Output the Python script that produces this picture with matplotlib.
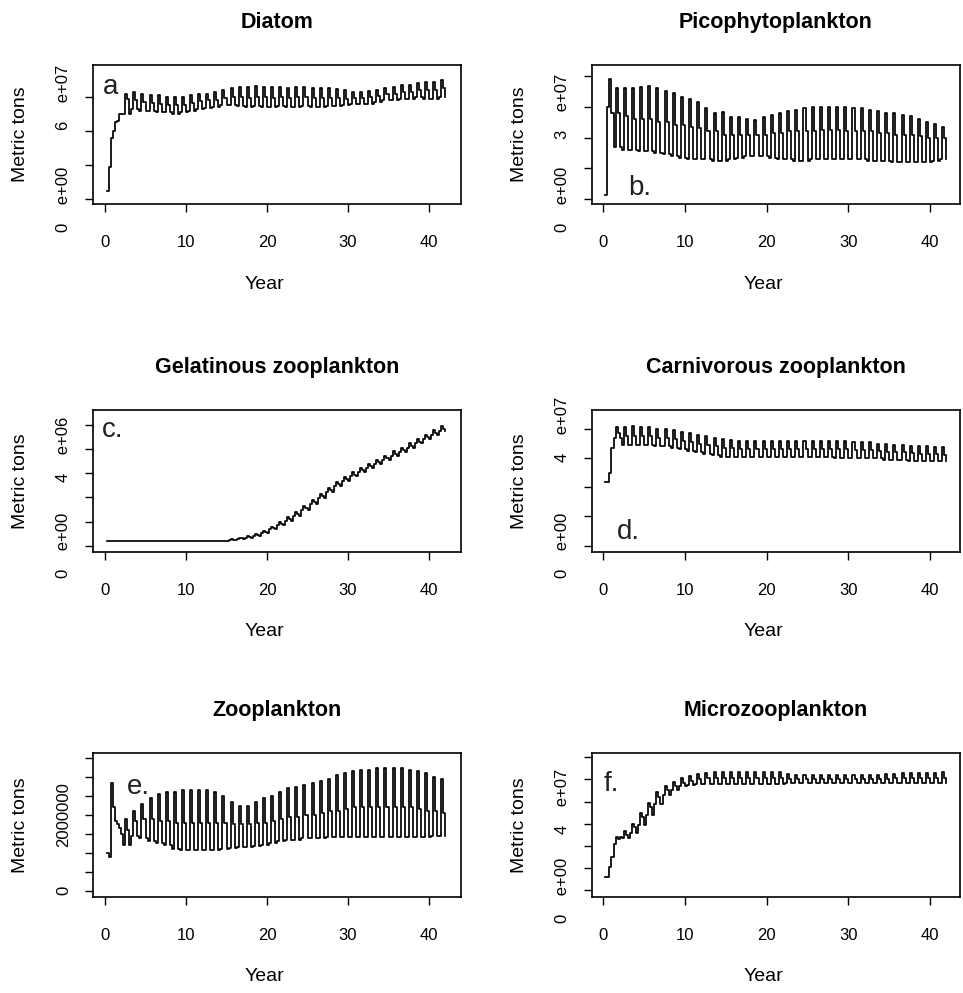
import numpy as np
import matplotlib
matplotlib.use("Agg")
import matplotlib.pyplot as plt

plt.rcParams["font.family"] = ["Liberation Sans", "DejaVu Sans"]

# Quarterly model output. Each series = a short start-up
# transient (quarter values) followed by per-year low / mid / high levels.

# Diatom (1e7 t), years 3..42
diatom_start = [0.5, 1.9, 3.6, 4.0, 4.55, 4.6, 5.0, 5.0]
diatom_lo = [5.0, 5.3, 5.2, 5.2, 5.1, 5.1, 5.0, 5.1, 5.2, 5.3,
             5.35, 5.4, 5.5, 5.5, 5.45, 5.4, 5.45, 5.4, 5.4, 5.45,
             5.4, 5.4, 5.45, 5.4, 5.4, 5.45, 5.45, 5.5, 5.6, 5.6,
             5.6, 5.7, 5.8, 5.8, 5.9, 5.9, 6.0, 5.9, 5.9, 6.0]
diatom_md = [5.9, 5.8, 5.7, 5.65, 5.6, 5.55, 5.5, 5.55, 5.65, 5.75,
             5.8, 5.85, 5.95, 6.0, 6.0, 5.95, 6.0, 6.0, 5.95, 6.0,
             5.95, 6.0, 6.0, 5.95, 5.95, 5.95, 5.95, 5.9, 5.95, 5.95,
             6.0, 6.05, 6.15, 6.2, 6.3, 6.3, 6.4, 6.4, 6.4, 6.5]
diatom_hi = [6.2, 6.3, 6.2, 6.1, 6.1, 6.0, 6.0, 6.0, 6.1, 6.2,
             6.2, 6.3, 6.4, 6.5, 6.6, 6.6, 6.65, 6.6, 6.6, 6.6,
             6.55, 6.6, 6.6, 6.55, 6.5, 6.5, 6.45, 6.4, 6.3, 6.3,
             6.35, 6.4, 6.5, 6.6, 6.7, 6.7, 6.8, 6.9, 6.9, 7.0]

# Picophytoplankton (1e7 t), years 2..42
pico_start = [0.13, 3.0, 3.9, 2.8]
pico_lo = [1.7, 1.6, 1.6, 1.55, 1.55, 1.5, 1.45, 1.4, 1.35, 1.3,
           1.3, 1.3, 1.25, 1.25, 1.3, 1.35, 1.4, 1.4, 1.4, 1.35,
           1.3, 1.3, 1.25, 1.25, 1.3, 1.3, 1.3, 1.3, 1.3, 1.3,
           1.3, 1.25, 1.25, 1.25, 1.2, 1.2, 1.2, 1.2, 1.2, 1.25,
           1.3]
pico_md = [2.8, 2.7, 2.6, 2.6, 2.6, 2.5, 2.5, 2.4, 2.4, 2.35,
           2.3, 2.2, 2.2, 2.1, 2.1, 2.1, 2.1, 2.1, 2.1, 2.15,
           2.15, 2.2, 2.2, 2.2, 2.2, 2.25, 2.25, 2.25, 2.2, 2.2,
           2.2, 2.2, 2.15, 2.15, 2.1, 2.1, 2.1, 2.05, 2.0, 2.0,
           2.0]
pico_hi = [3.6, 3.6, 3.6, 3.65, 3.67, 3.6, 3.5, 3.45, 3.33, 3.27,
           3.16, 2.95, 2.8, 2.84, 2.68, 2.68, 2.62, 2.57, 2.68, 2.75,
           2.8, 2.85, 2.9, 2.95, 3.0, 3.0, 3.0, 3.0, 3.0, 2.95,
           2.95, 2.9, 2.85, 2.8, 2.8, 2.75, 2.7, 2.6, 2.5, 2.45,
           2.35]

# Gelatinous zooplankton (1e6 t), years 1..42
gel_start = []
gel_lo = [0.2, 0.2, 0.2, 0.2, 0.2, 0.2, 0.2, 0.2, 0.2, 0.2,
          0.2, 0.2, 0.2, 0.2, 0.2, 0.24, 0.28, 0.33, 0.42, 0.54,
          0.68, 0.84, 1.02, 1.22, 1.46, 1.72, 1.96, 2.22, 2.46, 2.7,
          2.88, 3.04, 3.22, 3.4, 3.57, 3.74, 3.9, 4.07, 4.24, 4.42,
          4.6, 4.76]
gel_md = [0.2, 0.2, 0.2, 0.2, 0.2, 0.2, 0.2, 0.2, 0.2, 0.2,
          0.2, 0.2, 0.2, 0.2, 0.2, 0.25, 0.3, 0.36, 0.45, 0.58,
          0.72, 0.9, 1.1, 1.3, 1.55, 1.8, 2.05, 2.3, 2.55, 2.78,
          2.95, 3.12, 3.3, 3.48, 3.65, 3.82, 3.98, 4.15, 4.32, 4.5,
          4.68, 4.85]
gel_hi = [0.2, 0.2, 0.2, 0.2, 0.2, 0.2, 0.2, 0.2, 0.2, 0.2,
          0.2, 0.2, 0.2, 0.2, 0.2, 0.27, 0.32, 0.39, 0.49, 0.62,
          0.78, 0.97, 1.18, 1.4, 1.65, 1.9, 2.15, 2.4, 2.65, 2.87,
          3.04, 3.22, 3.4, 3.57, 3.74, 3.91, 4.07, 4.25, 4.42, 4.6,
          4.78, 4.95]

# Carnivorous zooplankton (1e7 t), years 2..42
carn_start = [2.17, 2.17, 2.48, 3.34]
carn_lo = [3.7, 3.45, 3.45, 3.45, 3.45, 3.4, 3.4, 3.35, 3.3, 3.25,
           3.2, 3.15, 3.1, 3.05, 3.05, 3.05, 3.05, 3.05, 3.05, 3.05,
           3.05, 3.05, 3.05, 3.05, 3.05, 3.05, 3.05, 3.0, 3.0, 3.0,
           3.0, 3.0, 3.0, 2.95, 2.95, 2.95, 2.9, 2.9, 2.9, 2.9,
           2.9]
carn_md = [3.85, 3.75, 3.75, 3.75, 3.75, 3.7, 3.7, 3.65, 3.6, 3.55,
           3.5, 3.45, 3.4, 3.35, 3.33, 3.32, 3.32, 3.32, 3.32, 3.32,
           3.32, 3.32, 3.32, 3.32, 3.32, 3.32, 3.32, 3.3, 3.3, 3.28,
           3.28, 3.27, 3.25, 3.22, 3.2, 3.2, 3.16, 3.15, 3.15, 3.14,
           3.1]
carn_hi = [4.05, 4.05, 4.1, 4.05, 4.05, 4.0, 4.0, 3.95, 3.9, 3.85,
           3.8, 3.75, 3.7, 3.65, 3.62, 3.6, 3.6, 3.6, 3.6, 3.6,
           3.6, 3.6, 3.6, 3.6, 3.6, 3.6, 3.6, 3.58, 3.58, 3.55,
           3.55, 3.55, 3.5, 3.5, 3.45, 3.45, 3.42, 3.4, 3.4, 3.38,
           3.38]

# Zooplankton (1e6 t), years 3..42
zoo_start = [1.0, 0.9, 2.84, 2.2, 1.85, 1.75, 1.65, 1.5]
zoo_lo = [1.2, 1.45, 1.4, 1.3, 1.25, 1.2, 1.1, 1.08, 1.08, 1.08,
          1.08, 1.08, 1.1, 1.12, 1.15, 1.15, 1.18, 1.2, 1.25, 1.3,
          1.35, 1.35, 1.38, 1.4, 1.4, 1.42, 1.42, 1.42, 1.42, 1.42,
          1.42, 1.42, 1.42, 1.42, 1.42, 1.42, 1.42, 1.42, 1.45, 1.45]
zoo_md = [1.6, 1.85, 1.9, 1.9, 1.85, 1.85, 1.8, 1.8, 1.8, 1.8,
          1.8, 1.8, 1.8, 1.75, 1.75, 1.75, 1.8, 1.8, 1.85, 1.9,
          1.95, 1.95, 2.0, 2.0, 2.05, 2.1, 2.1, 2.15, 2.2, 2.2,
          2.2, 2.2, 2.2, 2.2, 2.2, 2.2, 2.15, 2.1, 2.1, 2.05]
zoo_hi = [1.9, 2.1, 2.3, 2.45, 2.55, 2.6, 2.62, 2.65, 2.66, 2.66,
          2.65, 2.62, 2.5, 2.35, 2.25, 2.25, 2.35, 2.45, 2.5, 2.6,
          2.7, 2.75, 2.8, 2.85, 2.9, 2.95, 3.05, 3.1, 3.15, 3.2,
          3.2, 3.25, 3.25, 3.25, 3.25, 3.2, 3.15, 3.1, 3.0, 2.95]

# Microzooplankton (1e7 t), years 3..42
micro_start = [0.6, 0.6, 1.05, 1.5, 2.1, 2.4, 2.3, 2.4]
micro_lo = [2.35, 2.6, 2.95, 3.4, 3.9, 4.3, 4.5, 4.7, 4.75, 4.8,
            4.8, 4.8, 4.8, 4.8, 4.8, 4.8, 4.8, 4.8, 4.8, 4.8,
            4.85, 4.85, 4.85, 4.85, 4.85, 4.85, 4.85, 4.85, 4.85, 4.85,
            4.85, 4.85, 4.85, 4.85, 4.85, 4.85, 4.85, 4.85, 4.85, 4.85]
micro_md = [2.5, 2.85, 3.3, 3.75, 4.2, 4.5, 4.7, 4.85, 4.95, 5.0,
            5.05, 5.05, 5.05, 5.05, 5.05, 5.05, 5.05, 5.05, 5.05, 5.05,
            5.0, 5.0, 5.0, 5.0, 5.0, 5.0, 5.0, 5.0, 5.0, 5.0,
            5.0, 5.0, 5.0, 5.05, 5.05, 5.05, 5.05, 5.05, 5.05, 5.05]
micro_hi = [2.65, 3.0, 3.5, 3.95, 4.45, 4.7, 4.9, 5.05, 5.15, 5.25,
            5.3, 5.35, 5.35, 5.35, 5.35, 5.35, 5.35, 5.35, 5.35, 5.35,
            5.25, 5.2, 5.2, 5.2, 5.2, 5.2, 5.2, 5.2, 5.2, 5.2,
            5.2, 5.2, 5.25, 5.25, 5.3, 5.3, 5.3, 5.3, 5.3, 5.35]


def build(start, lo, md, hi):
    # one year = low, spike to the peak, step down to mid, back to low
    vals = list(start)
    for a, b, c in zip(lo, md, hi):
        vals += [a, c, b, a]
    return np.array(vals)


W, H = 963, 993
fig = plt.figure(figsize=(W / 100, H / 100), dpi=100)

col_left = [92.7, 591.7]
ax_w = 368.3
rows = [(65, 204), (410, 551.7), (753.3, 896.7)]

panels = [
    ("Diatom", build(diatom_start, diatom_lo, diatom_md, diatom_hi), 1e7,
     (-0.29, 7.88), [0, 2, 4, 6], {0: "0    e+00", 6: "6    e+07"}, "a", (-0.25, 6.6)),
    ("Picophytoplankton", build(pico_start, pico_lo, pico_md, pico_hi), 1e7,
     (-0.16, 4.36), [0, 1, 2, 3, 4], {0: "0    e+00", 3: "3    e+07"}, "b.", (3.0, 0.36)),
    ("Gelatinous zooplankton", build(gel_start, gel_lo, gel_md, gel_hi), 1e6,
     (-0.25, 5.63), [0, 1, 2, 3, 4, 5], {0: "0    e+00", 4: "4    e+06"}, "c.", (-0.37, 4.78)),
    ("Carnivorous zooplankton", build(carn_start, carn_lo, carn_md, carn_hi), 1e7,
     (-0.21, 4.65), [0, 1, 2, 3, 4], {0: "0    e+00", 4: "4    e+07"}, "d.", (1.64, 0.48)),
    ("Zooplankton", build(zoo_start, zoo_lo, zoo_md, zoo_hi), 1e6,
     (-0.16, 3.63), [0, 0.5, 1, 1.5, 2, 2.5, 3, 3.5], {0: "0", 2: "2000000"}, "e.", (2.68, 2.75)),
    ("Microzooplankton", build(micro_start, micro_lo, micro_md, micro_hi), 1e7,
     (-0.3, 6.18), [0, 1, 2, 3, 4, 5, 6], {0: "0    e+00", 4: "4    e+07"}, "f.", (0.0, 4.8)),
]

xlims = [(-1.52, 43.95), (-1.42, 43.66)]

for i, (title, vals, scale, ylim, yticks, ylabels, letter, lpos) in enumerate(panels):
    r, c = divmod(i, 2)
    top, bot = rows[r]
    h = bot - top
    ax = fig.add_axes([col_left[c] / W, 1 - bot / H, ax_w / W, h / H])
    t = 0.25 * np.arange(1, len(vals) + 1)
    ax.plot(t, vals * scale, drawstyle="steps-post", color="black", lw=1.25)
    ax.set_xlim(*xlims[c])
    ax.set_ylim(ylim[0] * scale, ylim[1] * scale)
    ax.set_xticks([0, 10, 20, 30, 40])
    ax.set_yticks([v * scale for v in yticks])
    ax.set_yticklabels([ylabels.get(v, "") for v in yticks])
    ax.tick_params(axis="both", direction="out", length=6, width=1.0,
                   labelsize=12, colors="black")
    ax.tick_params(axis="x", pad=16.5)
    ax.tick_params(axis="y", pad=9.5, labelrotation=90)
    for lab in ax.get_yticklabels():
        lab.set_va("center")
    for sp in ax.spines.values():
        sp.set_linewidth(1.2)
    ax.set_title(title, fontsize=15.5, fontweight="bold", y=1 + 42.5 / h,
                 va="center", pad=0)
    ax.set_xlabel("Year", fontsize=14, va="center")
    ax.xaxis.set_label_coords(0.467, -80 / h)
    ax.set_ylabel("Metric tons", fontsize=14, va="center")
    ax.yaxis.set_label_coords(-72 / ax_w, 0.5)
    ax.text(lpos[0], lpos[1] * scale, letter, fontsize=20, color="#222222",
            ha="left", va="center")

fig.savefig("out.png", dpi=100)
